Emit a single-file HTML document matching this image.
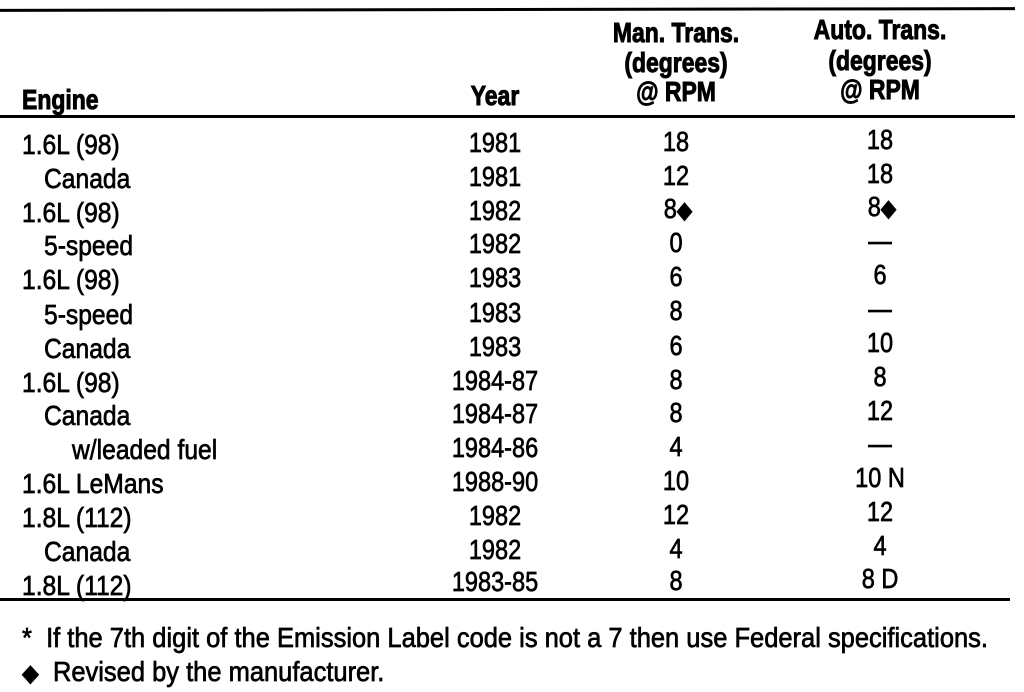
<!DOCTYPE html>
<html><head><meta charset="utf-8"><style>
body{margin:0;width:1024px;height:692px;background:#fff;overflow:hidden;position:relative;font-family:"Liberation Sans",Arial,sans-serif;color:#000}
.t{position:absolute;font-size:28px;line-height:30px;white-space:nowrap;transform-origin:0 50%;transform:translateY(-50%) scaleX(.88);-webkit-text-stroke:0.7px #000}
.c{position:absolute;font-size:28px;line-height:30px;white-space:nowrap;transform:translate(-50%,-50%) scaleX(.84);-webkit-text-stroke:0.7px #000}
.b{font-weight:bold;-webkit-text-stroke:1px #000;transform:translate(-50%,-50%) scaleX(.82)}
.t.b{transform:translateY(-50%) scaleX(.82)}
.t.f{transform:translateY(-50%) scaleX(.91)}
.d{font-size:24px}
.ln{position:absolute;left:0;background:#000}
</style></head><body>
<div class="ln" style="top:8px;width:1015px;height:3px;transform:rotate(-0.1deg)"></div>
<div class="ln" style="top:115px;width:1015px;height:3px"></div>
<div class="ln" style="top:598px;width:1010px;height:3px"></div>

<div class="t b" style="left:22px;top:100px">Engine</div>
<div class="c b" style="left:495px;top:96px">Year</div>
<div class="c b" style="left:676px;top:33px">Man. Trans.</div>
<div class="c b" style="left:676px;top:63px">(degrees)</div>
<div class="c b" style="left:676px;top:92px">@ RPM</div>
<div class="c b" style="left:880px;top:30px">Auto. Trans.</div>
<div class="c b" style="left:880px;top:61px">(degrees)</div>
<div class="c b" style="left:880px;top:90px">@ RPM</div>

<div class="t" style="left:22px;top:145px">1.6L (98)</div><div class="c" style="left:495px;top:143px">1981</div><div class="c" style="left:676px;top:142px">18</div><div class="c" style="left:880px;top:140px">18</div>
<div class="t" style="left:44px;top:179px">Canada</div><div class="c" style="left:495px;top:177px">1981</div><div class="c" style="left:676px;top:176px">12</div><div class="c" style="left:880px;top:174px">18</div>
<div class="t" style="left:22px;top:213px">1.6L (98)</div><div class="c" style="left:495px;top:211px">1982</div><div class="c" style="left:678px;top:210px">8<span class="d">◆</span></div><div class="c" style="left:882px;top:208px">8<span class="d">◆</span></div>
<div class="t" style="left:44px;top:246px">5-speed</div><div class="c" style="left:495px;top:244px">1982</div><div class="c" style="left:676px;top:243px">0</div><div class="c" style="left:880px;top:241px">—</div>
<div class="t" style="left:22px;top:280px">1.6L (98)</div><div class="c" style="left:495px;top:278px">1983</div><div class="c" style="left:676px;top:277px">6</div><div class="c" style="left:880px;top:275px">6</div>
<div class="t" style="left:44px;top:315px">5-speed</div><div class="c" style="left:495px;top:313px">1983</div><div class="c" style="left:676px;top:311px">8</div><div class="c" style="left:880px;top:309px">—</div>
<div class="t" style="left:44px;top:349px">Canada</div><div class="c" style="left:495px;top:347px">1983</div><div class="c" style="left:676px;top:346px">6</div><div class="c" style="left:880px;top:343px">10</div>
<div class="t" style="left:22px;top:383px">1.6L (98)</div><div class="c" style="left:495px;top:381px">1984-87</div><div class="c" style="left:676px;top:380px">8</div><div class="c" style="left:880px;top:377px">8</div>
<div class="t" style="left:44px;top:416px">Canada</div><div class="c" style="left:495px;top:414px">1984-87</div><div class="c" style="left:676px;top:413px">8</div><div class="c" style="left:880px;top:411px">12</div>
<div class="t" style="left:72px;top:450px">w/leaded fuel</div><div class="c" style="left:495px;top:448px">1984-86</div><div class="c" style="left:676px;top:447px">4</div><div class="c" style="left:880px;top:444px">—</div>
<div class="t" style="left:22px;top:484px">1.6L LeMans</div><div class="c" style="left:495px;top:482px">1988-90</div><div class="c" style="left:676px;top:481px">10</div><div class="c" style="left:880px;top:478px">10 N</div>
<div class="t" style="left:22px;top:518px">1.8L (112)</div><div class="c" style="left:495px;top:516px">1982</div><div class="c" style="left:676px;top:515px">12</div><div class="c" style="left:880px;top:512px">12</div>
<div class="t" style="left:44px;top:552px">Canada</div><div class="c" style="left:495px;top:550px">1982</div><div class="c" style="left:676px;top:549px">4</div><div class="c" style="left:880px;top:546px">4</div>
<div class="t" style="left:22px;top:586px">1.8L (112)</div><div class="c" style="left:495px;top:582px">1983-85</div><div class="c" style="left:676px;top:581px">8</div><div class="c" style="left:880px;top:579px">8 D</div>

<div class="t f" style="left:22px;top:638px">*&nbsp; If the 7th digit of the Emission Label code is not a 7 then use Federal specifications.</div>
<div class="t f" style="left:22px;top:673px"><span class="d">◆</span>&nbsp; Revised by the manufacturer.</div>
</body></html>
